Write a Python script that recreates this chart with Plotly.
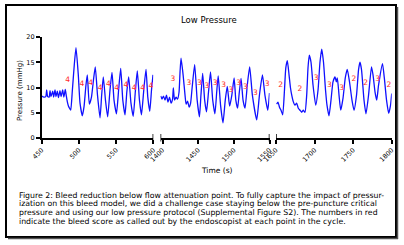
import plotly.graph_objects as go

W, H = 404, 245

# ---------------- data ----------------
# Panel 1: 450-600 s
t1 = [450, 453, 455.5, 456.7, 458, 460, 461.2, 462.5, 464.8, 466, 467.9, 469.2, 471, 472.5,
      474.6, 476, 478.2, 479.8, 481.7, 483, 484.4, 485.8, 487.4, 489, 491.1, 493.8, 496.1,
      499.2, 501.5, 504.6, 506.9, 509.5, 511.3, 514, 516.9, 519.6, 522, 525, 528.4, 530.6,
      532.8, 535.7, 538.7, 541.8, 544.5, 547.2, 550.5, 553.6, 556.2, 559, 562, 564.4, 566.9,
      570, 573, 575.8, 578.5, 581.4, 584.1, 587.2, 590.2, 592.6, 595.3, 597.6, 599.6]
p1 = [8.3, 8.1, 8.2, 9.5, 8.2, 8.1, 9.4, 8.2, 9.3, 8.1, 9.5, 8.2, 9.3, 8.0,
      9.4, 8.2, 9.5, 8.1, 9.6, 8.4, 7.2, 6.4, 5.9, 5.5, 9.2, 14.5, 17.9,
      12.5, 6.9, 4.4, 6.2, 10.5, 12.5, 6.7, 8.1, 11.5, 14.1, 8.5, 4.0, 8.5,
      12.1, 7.5, 4.2, 9.5, 13.0, 7.5, 4.8, 9.9, 13.8, 7.5, 4.6, 9.1, 12.1,
      6.9, 4.3, 9.1, 13.3, 7.5, 4.6, 9.5, 13.6, 8.1, 5.3, 9.5, 12.5]

# Panel 2: 1400-1550 s
t2 = [1397.5, 1399.3, 1401.4, 1403.5, 1405.6, 1407.7, 1409.9, 1412, 1414.1, 1415.2, 1416.9,
      1419, 1421.1, 1423.2, 1424.6, 1426, 1428.9, 1431.7, 1433.1, 1435.2, 1437.3, 1439.4,
      1441.5, 1445.1, 1448.6, 1451.8, 1453.9, 1456.3, 1459.1, 1461.7, 1464.5, 1467.3,
      1470.4, 1473.5, 1476, 1478.1, 1481.4, 1484.8, 1488, 1490.8, 1494.1, 1497.2, 1500.4,
      1502.8, 1505.3, 1507.7, 1510.1, 1512.9, 1515.7, 1518.9, 1522.2, 1526, 1532.1,
      1535.9, 1540.1, 1543.6, 1547.6, 1550]
p2 = [8.3, 7.7, 8.3, 7.5, 8.5, 7.1, 8.1, 6.9, 7.7, 9.9, 7.5,
      8.1, 7.7, 9.1, 13.1, 15.8, 12.5, 8.3, 6.7, 7.3, 6.1, 6.9,
      9.9, 14.5, 7.5, 4.2, 8.5, 12.8, 7.5, 5.2, 9.1, 13.1,
      7.5, 4.8, 9.1, 12.3, 6.5, 3.0, 7.5, 10.2, 6.3, 8.5, 11.9,
      7.5, 5.9, 9.1, 11.8, 7.5, 5.9, 10.5, 14.1, 8.5, 3.6,
      8.5, 12.5, 8.5, 5.5, 8.9]

# Panel 3: 1650-1800 s
t3 = [1650.9, 1652.6, 1654.5, 1656.5, 1658.7, 1661, 1662.7, 1664.7, 1666.9, 1668.8, 1670.4,
      1672.4, 1674.6, 1676.8, 1678.9, 1681.1, 1683.3, 1685.4, 1687.6, 1689.8, 1691.5, 1693.2,
      1695.4, 1698, 1701.5, 1704.5, 1707, 1709.3, 1711.6, 1714.2, 1716.1, 1718.7, 1721.3,
      1723.9, 1726.5, 1728.2, 1729.5, 1731.7, 1733.9, 1736.9, 1739.8, 1742.4, 1745.3,
      1748.5, 1751.1, 1754.4, 1757, 1758.9, 1760.9, 1764.1, 1766.7, 1770, 1773.8, 1775.8,
      1778.4, 1780.6, 1783, 1788.1, 1790.7, 1793.3, 1796.1, 1798.5, 1800]
p3 = [6.7, 7.1, 6.1, 5.5, 4.6, 9.5, 13.9, 15.3, 12.5, 9.9, 8.5,
      7.2, 6.5, 6.9, 5.9, 5.5, 5.1, 5.5, 5.1, 8.5, 13.9, 16.4,
      15.0, 10.5, 6.5, 9.5, 15.0, 17.6, 15.0, 9.5, 6.5, 4.4, 7.5,
      11.1, 12.1, 11.1, 11.9, 8.5, 5.5, 7.9, 11.9, 13.6, 11.1,
      7.5, 5.5, 8.5, 13.5, 15.0, 13.5, 7.5, 4.8, 8.5, 14.1, 12.5,
      9.1, 7.5, 10.5, 14.7, 11.5, 7.5, 4.9, 6.5, 8.8]

# Bleed scores called out by the endoscopist
s1_t = [484.9, 504.2, 515.9, 528.4, 539.5, 550.8, 563.3, 574.1, 585.7, 596.9]
s1_y = [11.5, 10.7, 10.8, 9.8, 10.7, 9.9, 10.4, 9.9, 9.8, 10.3]
s1_lab = ["4", "4", "4", "4", "4", "4", "4", "4", "4", "4"]

s2_t = [1414.4, 1436.9, 1451.8, 1462.2, 1473.9, 1485.6, 1496, 1506.7, 1516.2, 1530.2, 1546.7]
s2_y = [11.6, 10.8, 10.8, 10.3, 10.8, 10.5, 9.5, 10.8, 10.0, 8.9, 10.7]
s2_lab = ["3"] * 11

s3_t = [1656.1, 1681.1, 1701.9, 1719.1, 1735.2, 1751.1, 1766.3, 1781.9, 1796.5]
s3_y = [10.5, 9.7, 11.8, 10.4, 9.8, 11.6, 10.9, 11.7, 10.5]
s3_lab = ["2", "2", "3", "3", "3", "2", "2", "3", "2"]

ticks1 = [450, 500, 550, 600]
ticks2 = [1400, 1450, 1500, 1550]
ticks3 = [1650, 1700, 1750, 1800]
yticks = [0, 5, 10, 15, 20]

range1 = [450, 600]
range2 = [1397.2, 1550]
range3 = [1650, 1800]

title = "Low Pressure"
ytitle = "Pressure (mmHg)"
xtitle = "Time (s)"
caption_lines = [
    "Figure 2: Bleed reduction below flow attenuation point. To fully capture the impact of pressur-",
    "ization on this bleed model, we did a challenge case staying below the pre-puncture critical",
    "pressure and using our low pressure protocol (Supplemental Figure S2). The numbers in red",
    "indicate the bleed score as called out by the endoscopist at each point in the cycle.",
]

# ---------------- figure ----------------
FONT = "DejaVu Sans"
BLUE = "#1010ff"
RED = "#ff2b2b"


def fx(px):
    return px / W


def fy(py):
    return 1 - py / H


fig = go.Figure()
for xa, t, p in (("x", t1, p1), ("x2", t2, p2), ("x3", t3, p3)):
    fig.add_trace(go.Scatter(x=t, y=p, xaxis=xa, yaxis="y", mode="lines",
                             line=dict(color=BLUE, width=1.3, shape="spline", smoothing=0.5),
                             hoverinfo="skip"))
for xa, t, p, lab in (("x", s1_t, s1_y, s1_lab), ("x2", s2_t, s2_y, s2_lab), ("x3", s3_t, s3_y, s3_lab)):
    fig.add_trace(go.Scatter(x=t, y=p, xaxis=xa, yaxis="y", mode="text", text=lab,
                             textfont=dict(color=RED, size=7.5, family=FONT),
                             textposition="middle center", cliponaxis=False, hoverinfo="skip"))

axcommon = dict(showline=True, linecolor="black", linewidth=1.5, ticks="outside",
                ticklen=4, tickwidth=1.5, tickcolor="black", showgrid=False, zeroline=False,
                tickangle=-45, tickfont=dict(family=FONT, size=6.5, color="black"),
                anchor="y", fixedrange=True, automargin=False)

fig.update_layout(
    width=W, height=H, autosize=False,
    margin=dict(l=0, r=0, t=0, b=0, pad=0, autoexpand=False),
    paper_bgcolor="white", plot_bgcolor="white",
    showlegend=False,
    xaxis=dict(domain=[fx(41.7), fx(153.3)], range=range1, tickvals=ticks1, **axcommon),
    xaxis2=dict(domain=[fx(160.5), fx(269.5)], range=range2, tickvals=ticks2, **axcommon),
    xaxis3=dict(domain=[fx(276), fx(391.7)], range=range3, tickvals=ticks3, **axcommon),
    yaxis=dict(domain=[fy(138), fy(37)], range=[0, 20], tickvals=yticks, anchor="x",
               showline=True, linecolor="black", linewidth=1.5, ticks="outside", ticklen=4,
               tickwidth=1.5, tickcolor="black", showgrid=False, zeroline=False, automargin=False,
               tickfont=dict(family=FONT, size=6.5, color="black"), fixedrange=True),
)

ann = [
    dict(text=title, x=fx(209), y=fy(20), xref="paper", yref="paper", showarrow=False,
         font=dict(family=FONT, size=8.5, color="black"), xanchor="center", yanchor="middle"),
    dict(text=ytitle, x=fx(20), y=fy(91), xref="paper", yref="paper", showarrow=False,
         textangle=-90, font=dict(family=FONT, size=7, color="black"),
         xanchor="center", yanchor="middle"),
    dict(text=xtitle, x=fx(217), y=fy(170), xref="paper", yref="paper", showarrow=False,
         font=dict(family=FONT, size=7.5, color="black"), xanchor="center", yanchor="middle"),
]
for i, line in enumerate(caption_lines):
    ann.append(dict(text=line, x=fx(16.5), y=fy(195 + 8.9 * i), xref="paper", yref="paper",
                    showarrow=False, align="left", font=dict(family=FONT, size=7.8, color="black"),
                    xanchor="left", yanchor="middle"))
fig.update_layout(annotations=ann)

shapes = [
    # outer frame with slight shadow on right/bottom
    dict(type="rect", xref="paper", yref="paper", x0=fx(6), x1=fx(396), y0=fy(237), y1=fy(5),
         line=dict(color="black", width=2)),
    dict(type="line", xref="paper", yref="paper", x0=fx(397.5), x1=fx(397.5), y0=fy(239), y1=fy(7),
         line=dict(color="#555555", width=1.5)),
    dict(type="line", xref="paper", yref="paper", x0=fx(8), x1=fx(398), y0=fy(238.5), y1=fy(238.5),
         line=dict(color="#555555", width=1.5)),
]
# axis-break marks at segment ends
for xr, xv in (("x", range1[1]), ("x2", range2[0]), ("x2", range2[1]), ("x3", range3[0])):
    shapes.append(dict(type="line", xref=xr, yref="paper", x0=xv, x1=xv, y0=fy(141.5), y1=fy(134),
                       line=dict(color="black", width=1.5)))
fig.update_layout(shapes=shapes)

fig.write_html(
    "out.html",
    config={"displayModeBar": False, "responsive": False},
    post_script="document.body.style.margin='0';document.body.style.padding='0';"
                "document.body.style.overflow='hidden';"
                "document.documentElement.style.overflow='hidden';",
)
